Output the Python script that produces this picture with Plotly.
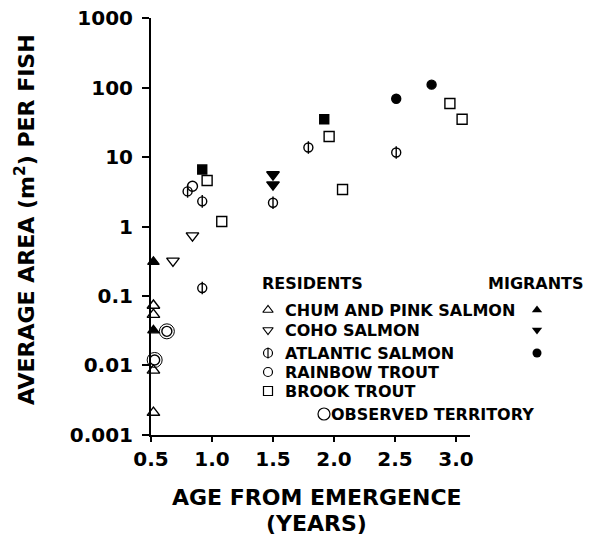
import plotly.graph_objects as go

# ---- data ----
chum_res_x = [0.52, 0.52, 0.52, 0.52]
chum_res_y = [0.073, 0.054, 0.0085, 0.0021]
chum_mig_x = [0.52, 0.52]
chum_mig_y = [0.31, 0.032]

coho_res_x = [0.68, 0.84]
coho_res_y = [0.32, 0.74]
coho_mig_x = [1.5, 1.5]
coho_mig_y = [5.6, 4.0]

atl_res_x = [0.92, 0.80, 0.92, 1.50, 1.79, 2.51]
atl_res_y = [0.13, 3.2, 2.3, 2.2, 13.7, 11.6]
atl_mig_x = [2.51, 2.80]
atl_mig_y = [69, 110]

brook_mig_x = [0.92, 1.92]
brook_mig_y = [6.6, 35]

rainbow_x = [0.84, 0.63, 0.53]
rainbow_y = [3.8, 0.031, 0.012]
observed_x = [0.63, 0.53]
observed_y = [0.031, 0.012]

brook_x = [0.96, 1.08, 1.96, 2.07, 2.95, 3.05]
brook_y = [4.6, 1.18, 19.7, 3.4, 59, 35]

x_ticks = [0.5, 1.0, 1.5, 2.0, 2.5, 3.0]
x_ticktext = ["0.5", "1.0", "1.5", "2.0", "2.5", "3.0"]
y_ticks = [0.001, 0.01, 0.1, 1, 10, 100, 1000]
y_ticktext = ["0.001", "0.01", "0.1", "1", "10", "100", "1000"]

legend_labels = ["CHUM AND PINK SALMON", "COHO SALMON", "ATLANTIC SALMON",
                 "RAINBOW TROUT", "BROOK TROUT"]

# page has an 8px body margin, so the figure is drawn 8px in from the corner
OFF = 8
W, H = 592 - OFF, 536 - OFF
FONT = "DejaVu Sans"
BLK = "black"

# plot box in page pixels
PL, PR, PT, PB = 151, 470, 18, 435


def px(x):
    return (x - OFF) / W


def py(y):
    return 1 - (y - OFF) / H


fig = go.Figure()


def pts(x, y, symbol, size, lw=1.4):
    fig.add_trace(go.Scatter(
        x=x, y=y, mode="markers", showlegend=False,
        marker=dict(symbol=symbol, size=size, color=BLK,
                    line=dict(color=BLK, width=lw)),
        cliponaxis=False,
    ))


pts(chum_res_x, chum_res_y, "triangle-up-open", 11)
pts(chum_mig_x, chum_mig_y, "triangle-up", 10)
pts(coho_res_x, coho_res_y, "triangle-down-open", 11)
pts(coho_mig_x, coho_mig_y, "triangle-down", 11)
pts(atl_res_x, atl_res_y, "circle-open", 9)
pts(atl_res_x, atl_res_y, "line-ns-open", 9)
pts(atl_mig_x, atl_mig_y, "circle", 9)
pts(brook_mig_x, brook_mig_y, "square", 9)
pts(rainbow_x, rainbow_y, "circle-open", 10)
pts(observed_x, observed_y, "circle-open", 15, lw=1.0)
pts(brook_x, brook_y, "square-open", 10)

# legend keys on an overlay axis measured in page pixels
key_x, key_yy = 268, [310, 330, 353, 372, 391]
key_sym = ["triangle-up-open", "triangle-down-open", "circle-open", "circle-open", "square-open"]
for yy, sym in zip(key_yy, key_sym):
    fig.add_trace(go.Scatter(
        x=[key_x], y=[yy], xaxis="x2", yaxis="y2", mode="markers", showlegend=False,
        marker=dict(symbol=sym, size=9, color=BLK, line=dict(color=BLK, width=1.2)),
    ))
fig.add_trace(go.Scatter(
    x=[key_x], y=[key_yy[2]], xaxis="x2", yaxis="y2", mode="markers", showlegend=False,
    marker=dict(symbol="line-ns-open", size=8, color=BLK, line=dict(color=BLK, width=1.2)),
))
mig_sym = ["triangle-up", "triangle-down", "circle"]
for yy, sym in zip(key_yy[:3], mig_sym):
    fig.add_trace(go.Scatter(
        x=[537], y=[yy], xaxis="x2", yaxis="y2", mode="markers", showlegend=False,
        marker=dict(symbol=sym, size=9, color=BLK),
    ))
fig.add_trace(go.Scatter(
    x=[324], y=[414], xaxis="x2", yaxis="y2", mode="markers", showlegend=False,
    marker=dict(symbol="circle-open", size=12, color=BLK, line=dict(color=BLK, width=1.2)),
))

ann = []
tf = dict(family=FONT, size=16, color=BLK, weight="bold")
ann.append(dict(x=px(260), y=py(283), text="RESIDENTS", xanchor="left"))
ann.append(dict(x=px(586), y=py(283), text="MIGRANTS", xanchor="right"))
for yy, lab in zip(key_yy, legend_labels):
    ann.append(dict(x=px(283), y=py(yy), text=lab, xanchor="left"))
ann.append(dict(x=px(329), y=py(414), text="OBSERVED TERRITORY", xanchor="left"))
for a in ann:
    a.update(xref="paper", yref="paper", yanchor="middle", showarrow=False, font=tf)

big = dict(family=FONT, size=22, color=BLK, weight="bold")
for yy, txt in [(497, "AGE FROM EMERGENCE"), (523, "(YEARS)")]:
    ann.append(dict(x=px(317), y=py(yy), xref="paper", yref="paper", showarrow=False,
                    text=txt, font=big, xanchor="center", yanchor="middle"))
ann.append(dict(x=px(25), y=py(220), xref="paper", yref="paper", showarrow=False,
                text="AVERAGE AREA (m<sup>2</sup>) PER FISH", font=big, textangle=-90,
                xanchor="center", yanchor="middle"))

fig.update_layout(
    width=W, height=H,
    margin=dict(l=0, r=0, t=0, b=0),
    paper_bgcolor="white", plot_bgcolor="rgba(0,0,0,0)",
    showlegend=False,
    annotations=ann,
    xaxis=dict(
        domain=[px(PL), px(PR)], range=[0.5, 0.5 + (PR - PL) / 122.0],
        tickvals=x_ticks, ticktext=x_ticktext,
        ticks="outside", ticklen=5, tickwidth=1.5, tickcolor=BLK,
        showline=True, linecolor=BLK, linewidth=2, showgrid=False, zeroline=False,
        tickfont=dict(family=FONT, size=20, color=BLK, weight="bold"),
        ticklabeloverflow="allow", automargin=False,
    ),
    yaxis=dict(
        domain=[py(PB), py(PT)], type="log", range=[-3.0005, 3.0005],
        tickvals=y_ticks, ticktext=y_ticktext,
        ticks="outside", ticklen=7, tickwidth=1.5, tickcolor=BLK,
        ticklabelstandoff=5,
        showline=True, linecolor=BLK, linewidth=2, showgrid=False, zeroline=False,
        tickfont=dict(family=FONT, size=20, color=BLK, weight="bold"),
        ticklabeloverflow="allow", automargin=False,
    ),
    xaxis2=dict(domain=[0, 1], range=[OFF, OFF + W], visible=False, anchor="y2"),
    yaxis2=dict(domain=[0, 1], range=[OFF + H, OFF], visible=False, anchor="x2"),
)

fig.write_html("out.html")
